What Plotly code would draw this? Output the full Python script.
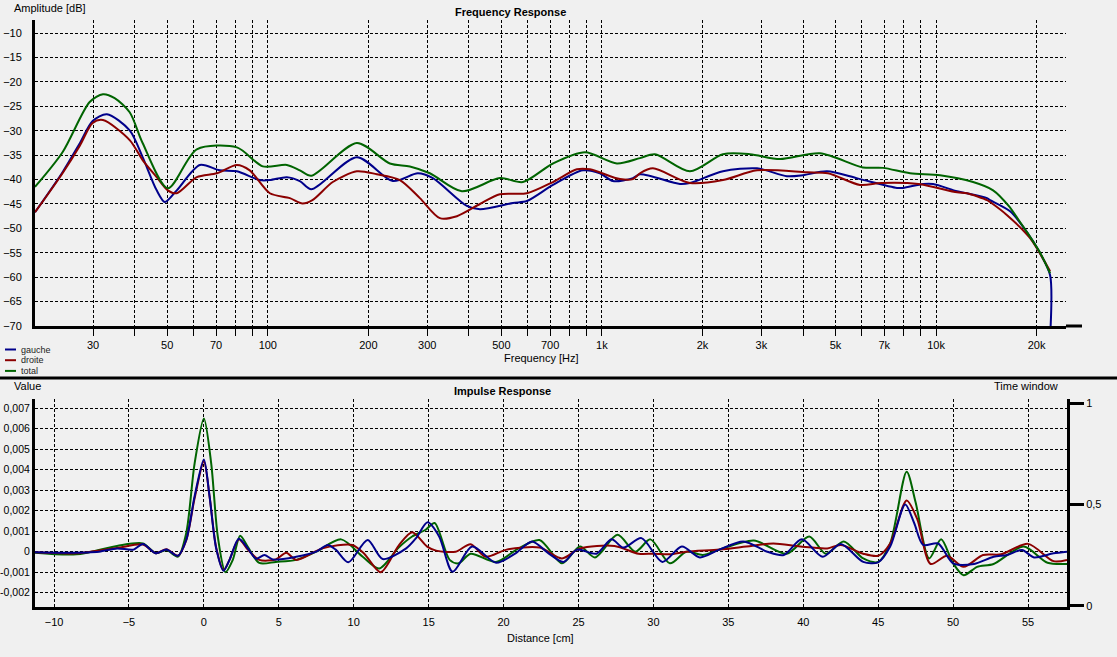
import math
import plotly.graph_objects as go

W, H = 1117, 657

# ---------------- Frequency response data ----------------
freq_gauche = [20.1, 24.3, 27.4, 29.9, 33.0, 38.6, 42.2, 46.5, 49.2, 53.4, 62.6, 71.8, 80.8, 94.6, 101.4,
               114, 124.7, 135, 184.7, 236.7, 281.3, 311.9, 394.3, 431.3, 541.5, 596.3, 713.6, 877.5,
               986.3, 1079, 1238, 1300, 1712, 1834, 2303, 2912, 3580, 3998, 4717, 5850, 7642, 7965,
               9145, 9795, 11560, 12380, 14210, 14510, 16660, 18730, 20490, 21950, 21960]
db_gauche = [-46.7, -38.5, -32.5, -28.0, -26.6, -29.9, -35.4, -42.2, -44.6, -42.2, -37.0, -38.1, -38.3, -40.1, -40.1,
             -39.5, -40.3, -42.0, -35.4, -40.3, -38.7, -39.7, -45.4, -46.1, -44.8, -44.4, -41.1, -38.1,
             -38.7, -40.3, -39.7, -38.9, -40.9, -40.7, -38.3, -37.7, -39.3, -39.1, -38.3, -39.8, -41.7, -41.7,
             -40.9, -40.9, -42.4, -42.8, -43.8, -44.2, -46.5, -50.8, -55.1, -59.6, -72.0]

freq_droite = [20.1, 24.3, 27.4, 29.9, 32.1, 38.6, 42.2, 46.5, 50.2, 53.4, 61.3, 70.4, 80.8, 88.3, 101.4,
               116.4, 127, 136, 156.5, 184.7, 212, 248.5, 285.2, 327.3, 368.1, 431.3, 495, 596.3, 713.6,
               841.9, 920.7, 1132, 1238, 1300, 1421, 1834, 2303, 2912, 4110, 4750, 5923, 6850, 8860,
               11560, 12380, 14210, 14510, 16320, 19120, 21950]
db_droite = [-46.7, -38.7, -33.0, -28.4, -27.8, -31.9, -36.0, -39.5, -42.2, -42.8, -39.5, -38.7, -37.0, -38.1, -42.8,
             -43.8, -44.9, -44.2, -40.5, -38.3, -38.9, -40.1, -43.8, -47.9, -47.5, -45.0, -43.0, -42.8, -40.5,
             -37.9, -37.9, -39.9, -39.9, -38.7, -37.7, -40.7, -40.1, -38.1, -38.5, -38.7, -41.1, -40.7, -40.9,
             -42.6, -42.8, -44.2, -44.6, -47.3, -52.0, -58.8]

freq_total = [20.1, 24.3, 29.3, 32.1, 34.8, 38.6, 42.2, 50.2, 61.3, 80.8, 96.6, 114, 124.7, 135,
              184.7, 231.9, 266.2, 305.5, 380.9, 495.0, 580.1, 713.6, 889.6, 1109, 1300, 1440, 1834,
              2303, 2774, 3411, 4495, 6045, 6939, 8361, 10280, 12910, 14820, 16500, 17840, 18730,
              20490, 21950]
db_total = [-41.5, -34.4, -24.1, -22.5, -23.3, -26.2, -32.5, -41.8, -33.8, -33.4, -37.3, -37.0, -38.1, -39.2,
            -32.5, -36.7, -37.3, -38.7, -42.4, -39.7, -40.5, -36.7, -34.4, -36.7, -35.6, -34.8, -38.3,
            -34.8, -34.8, -35.8, -34.6, -37.5, -37.6, -38.7, -39.1, -40.5, -42.2, -45.4, -48.7, -50.8,
            -55.0, -59.2]

freq_tickvals = [30, 40, 50, 60, 70, 80, 90, 100, 200, 300, 400, 500, 600, 700, 800, 900,
                 1000, 2000, 3000, 4000, 5000, 6000, 7000, 8000, 9000, 10000, 20000]
freq_ticktext = ["30", "", "50", "", "70", "", "", "100", "200", "300", "", "500", "", "700", "", "",
                 "1k", "2k", "3k", "", "5k", "", "7k", "", "", "10k", "20k"]
amp_tickvals = [-70, -65, -60, -55, -50, -45, -40, -35, -30, -25, -20, -15, -10]

# ---------------- Impulse response data ----------------
dist_gauche = [-11.3, -9.2, -7.0, -5.8, -4.7, -4.07, -3.2, -2.5, -1.73, -1.18, -0.62, 0.0, 0.38, 0.82,
               1.31, 1.71, 2.33, 2.93, 3.49, 4.04, 4.6, 6.16, 7.5, 8.27, 8.8, 9.64, 10.93, 11.93, 13.5,
               14.16, 14.93, 15.7, 16.6, 17.9, 19.5, 20.8, 21.9, 23.0, 24.0, 24.9, 26.2, 27.2, 28.0,
               29.2, 30.6, 31.9, 33.1, 34.4, 36.0, 37.6, 38.7, 39.9, 41.3, 42.5, 44.0, 45.0, 45.8,
               46.8, 47.4, 48.0, 49.0, 50.0, 51.4, 52.7, 53.6, 54.6, 55.4, 56.7, 57.6]
val_gauche = [-0.00003, -0.00005, 0.0, 0.00016, 0.0001, 0.00037, -0.00008, 0.0001, -0.0002, 0.00057, 0.0027, 0.0045, 0.0027, 0.00016,
              -0.00093, -0.0004, 0.00063, 0.00016, -0.00035, -0.00016, -0.00038, -0.00025, 0.0, 0.00033, 0.0001, -0.00052, 0.00057, -0.00036, 0.00016,
              0.00066, 0.00143, 0.00074, -0.00098, 0.00025, -0.00054, -0.00008, 0.0005, -0.00008, -0.0005, 0.0001, -0.0001, 0.0006, 0.0002,
              0.00066, -0.0005, 0.00025, -0.00028, 0.0001, 0.0005, 0.0, -0.00016, 0.0006, -0.00025, 0.00038, -0.0005, -0.00052, 0.00025,
              0.0023, 0.0014, 0.00033, 0.0004, -0.00057, -0.0006, -0.00025, -0.00016, 0.00008, -0.00028, -0.00008, 0.0]

dist_droite = [-11.3, -8.5, -5.8, -4.07, -3.2, -2.5, -1.73, -1.18, -0.62, 0.0, 0.38, 0.82, 1.31, 1.71,
               2.33, 2.93, 3.7, 4.8, 5.5, 6.16, 7.9, 9.9, 10.7, 11.8, 13.0, 13.9, 14.9, 15.5, 16.8,
               17.8, 18.8, 20.2, 22.4, 23.9, 25.1, 27.4, 29.0, 30.0, 31.1, 32.2, 34.4, 36.2, 38.0,
               39.8, 41.6, 42.5, 44.0, 45.0, 45.8, 46.9, 47.6, 48.5, 49.6, 50.7, 52.0, 53.2, 55.0,
               56.7, 57.6]
val_droite = [-0.00003, -0.00008, 0.00018, 0.00035, -0.00008, 0.00012, -0.0002, 0.00055, 0.0026, 0.0044, 0.0027, 0.0002, -0.0009, -0.0004,
              0.0006, 0.0001, -0.0004, -0.00038, -0.00005, -0.0004, 0.00016, 0.00033, -0.0001, -0.001, 0.0003, 0.00095, 0.00025, 0.00005, 0.0,
              0.00036, -0.00025, 0.0001, 0.0002, -0.00033, 0.00016, 0.00028, -0.0001, -0.0001, -0.00013, 0.0, 0.0001, 0.00025, 0.0004,
              0.00025, 0.00016, 0.00033, -0.0001, -0.0002, 0.0004, 0.0025, 0.0016, -0.0006, -0.0002, -0.00074, -0.00016, -0.00013, 0.00038,
              -0.00046, -0.0004]

dist_total = [-11.3, -8.5, -5.8, -4.07, -3.2, -2.5, -1.73, -1.18, -0.62, 0.0, 0.49, 0.93, 1.44, 1.93,
              2.42, 2.93, 3.7, 4.8, 6.16, 7.5, 9.16, 10.6, 11.7, 13.0, 13.9, 14.8, 15.4, 16.4, 17.0,
              17.8, 19.5, 21.0, 22.4, 23.9, 25.1, 26.1, 27.6, 28.8, 29.8, 31.1, 32.2, 33.3, 34.4,
              36.7, 38.9, 40.4, 41.5, 42.7, 44.0, 45.0, 45.8, 46.9, 47.5, 48.4, 49.2, 50.0, 50.7,
              51.6, 52.7, 54.7, 56.3, 57.6]
val_total = [-0.00005, -0.00013, 0.00028, 0.0004, -0.00008, 0.00008, -0.00024, 0.0009, 0.0043, 0.0065, 0.0043, 0.00073, -0.001, -0.0004,
             0.00078, 0.00024, -0.00055, -0.0005, -0.0004, 0.0, 0.0006, -0.00025, -0.00082, 0.0002, 0.00074, 0.00107, 0.0014, -0.0004, -0.00057,
             -0.0001, -0.0005, 0.00016, 0.00057, -0.00057, 0.00025, -0.00028, 0.00082, 0.0, 0.0006, -0.00057, 0.0, -0.00016, 0.0001,
             0.00054, -0.0001, 0.00074, -0.0001, 0.0005, -0.00033, -0.0005, 0.0004, 0.0039, 0.0024, -0.00033, 0.0006, -0.00057, -0.00115,
             -0.00074, -0.0006, 0.00025, -0.00054, -0.0006]

value_tickvals = [-0.002, -0.001, 0, 0.001, 0.002, 0.003, 0.004, 0.005, 0.006, 0.007]
value_ticktext = ["-0,002", "-0,001", "0", "0,001", "0,002", "0,003", "0,004", "0,005", "0,006", "0,007"]
dist_tickvals = [-10, -5, 0, 5, 10, 15, 20, 25, 30, 35, 40, 45, 50, 55]
window_tickvals = [0, 0.5, 1]
window_ticktext = ["0", "0,5", "1"]

series_names = ["gauche", "droite", "total"]
colors = ["#00008b", "#8b0000", "#006400"]


def px(x):
    return x / W


def py(y):
    return 1 - y / H


FONT = "Liberation Sans, Arial, sans-serif"
GRID = dict(showgrid=True, gridcolor="black", gridwidth=1, griddash="3px,2px", automargin=False)

fig = go.Figure()

freq_sets = [(freq_gauche, db_gauche), (freq_droite, db_droite), (freq_total, db_total)]
for (f, d), name, c in zip(freq_sets, series_names, colors):
    fig.add_trace(go.Scatter(x=f, y=d, mode="lines", name=name,
                             line=dict(color=c, width=2, shape="spline", smoothing=0.8),
                             xaxis="x", yaxis="y", showlegend=False))

imp_sets = [(dist_total, val_total), (dist_droite, val_droite), (dist_gauche, val_gauche)]
for (dd, v), name, c in zip(imp_sets, ["total", "droite", "gauche"], ["#006400", "#8b0000", "#00008b"]):
    fig.add_trace(go.Scatter(x=dd, y=v, mode="lines", name=name,
                             line=dict(color=c, width=2, shape="spline", smoothing=0.8),
                             xaxis="x2", yaxis="y2", showlegend=False))

# invisible trace anchoring the "Time window" axis
fig.add_trace(go.Scatter(x=[0], y=[0.5], mode="markers", marker=dict(opacity=0), xaxis="x2", yaxis="y3",
                         showlegend=False, hoverinfo="skip"))

fig.update_layout(
    template="none",
    width=W, height=H,
    margin=dict(l=0, r=0, t=0, b=0, autoexpand=False),
    paper_bgcolor="#f0f0f0", plot_bgcolor="#f0f0f0",
    font=dict(family=FONT, size=11, color="black"),
    showlegend=False,
    xaxis=dict(type="log", domain=[px(35), px(1066)], range=[math.log10(20.1), 4.389],
               tickvals=freq_tickvals, ticktext=freq_ticktext, ticks="outside", ticklen=7, tickcolor="black",
               showline=True, linecolor="black", linewidth=3, anchor="y", zeroline=False, **GRID),
    yaxis=dict(domain=[py(326), py(20)], range=[-70, -7.3], tickvals=amp_tickvals,
               ticks="outside", ticklen=8, tickcolor="rgba(0,0,0,0)",
               showline=True, linecolor="black", linewidth=3, anchor="x", zeroline=False, **GRID),
    xaxis2=dict(domain=[px(35), px(1067)], range=[-11.27, 57.6], tickvals=dist_tickvals,
                ticks="outside", ticklen=3, tickcolor="rgba(0,0,0,0)",
                showline=True, linecolor="black", linewidth=3, anchor="y2", zeroline=False, **GRID),
    yaxis2=dict(domain=[py(607), py(399)], range=[-0.0027, 0.00745], tickvals=value_tickvals,
                ticktext=value_ticktext, ticks="", tickfont=dict(size=10.5),
                showline=True, linecolor="black", linewidth=3, anchor="x2", zeroline=False, **GRID),
    yaxis3=dict(domain=[py(607), py(399)], range=[-0.005, 1.0197], overlaying="y2", side="right", anchor="x2",
                tickvals=window_tickvals, ticktext=window_ticktext, ticks="outside", ticklen=14, tickwidth=3,
                tickcolor="black", showline=True, linecolor="black", linewidth=3, showgrid=False,
                zeroline=False, automargin=False),
)

shapes = [
    dict(type="line", xref="paper", yref="paper", x0=0, x1=1, y0=py(378), y1=py(378),
         line=dict(color="black", width=3)),
    dict(type="line", xref="paper", yref="paper", x0=px(1066), x1=px(1082), y0=py(326), y1=py(326),
         line=dict(color="black", width=3)),
]
ann = []
for i, (name, c) in enumerate(zip(series_names, colors)):
    yy = 349.5 + i * 10.7
    shapes.append(dict(type="line", xref="paper", yref="paper", x0=px(5), x1=px(16), y0=py(yy), y1=py(yy),
                       line=dict(color=c, width=2)))
    ann.append(dict(text=name, x=px(19), y=py(yy), xanchor="left", yanchor="middle",
                    font=dict(size=9, color="#222")))

ann += [
    dict(text="Amplitude [dB]", x=px(12), y=py(8), xanchor="left", yanchor="middle"),
    dict(text="<b>Frequency Response</b>", x=px(510), y=py(12), xanchor="center", yanchor="middle"),
    dict(text="Frequency [Hz]", x=px(541), y=py(358), xanchor="center", yanchor="middle"),
    dict(text="Value", x=px(12), y=py(386), xanchor="left", yanchor="middle"),
    dict(text="<b>Impulse Response</b>", x=px(502), y=py(391), xanchor="center", yanchor="middle"),
    dict(text="Time window", x=px(1060), y=py(386), xanchor="right", yanchor="middle"),
    dict(text="Distance [cm]", x=px(540), y=py(638), xanchor="center", yanchor="middle"),
]
for a in ann:
    a.setdefault("xref", "paper")
    a.setdefault("yref", "paper")
    a.setdefault("showarrow", False)

fig.update_layout(shapes=shapes, annotations=ann)

fig.write_html("out.html", config={"displayModeBar": False},
               post_script="document.body.style.margin='0px';document.body.style.background='#f0f0f0';")
